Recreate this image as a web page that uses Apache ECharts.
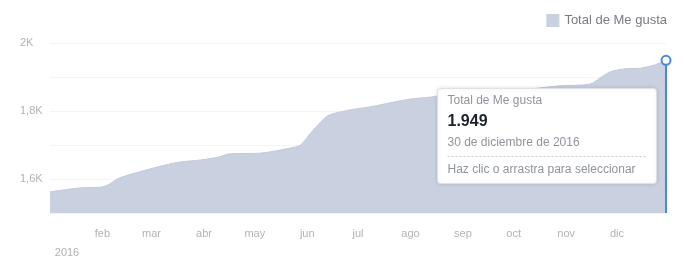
<!DOCTYPE html>
<html><head><meta charset="utf-8">
<script src="https://cdn.jsdelivr.net/npm/echarts@6/dist/echarts.min.js"></script>
<style>html,body{margin:0;padding:0;background:#fff}#c{width:684px;height:267px}</style>
</head><body><div id="c"></div>
<script>
const seriesName = 'Total de Me gusta';
const dates = ['2016-01-01','2016-01-19','2016-01-31','2016-02-04','2016-02-11','2016-02-23','2016-03-09','2016-03-18','2016-03-30','2016-04-10','2016-04-16','2016-05-04','2016-05-22','2016-05-28','2016-06-03','2016-06-09','2016-06-14','2016-06-26','2016-07-08','2016-07-20','2016-08-01','2016-08-13','2016-08-24','2016-09-11','2016-10-05','2016-10-28','2016-11-15','2016-11-21','2016-11-27','2016-12-06','2016-12-15','2016-12-23','2016-12-30'];
const likes = [1562,1574,1576,1582,1603,1621,1641,1650,1656,1665,1674,1676,1691,1700,1735,1768,1788,1803,1812,1824,1835,1841,1850,1856,1862,1874,1879,1897,1915,1924,1926,1935,1949];
const monthLabels = ['2016','feb','mar','abr','may','jun','jul','ago','sep','oct','nov','dic'];
const yTickLabels = {1600:'1,6K',1800:'1,8K',2000:'2K'};
const tipDate = '30 de diciembre de 2016';
const tipHint = 'Haz clic o arrastra para seleccionar';

const lastIdx = likes.length - 1;
const fmtNum = v => String(v).replace(/\B(?=(\d{3})+(?!\d))/g, '.');
const areaColor = '#c9d0e0';
const blue = '#4b86e0';
const labelGrey = '#b3b3b3';
const tipGrey = '#8f949b';

const chart = echarts.init(document.getElementById('c'));
const tx = 437, ty = 88, tw = 219, th = 95;
chart.setOption({
  animation: false,
  grid: {left: 50, right: 18, top: 43, bottom: 54},
  legend: {
    right: 12, top: 9, itemWidth: 13, itemHeight: 13, itemGap: 8, icon: 'rect',
    textStyle: {color: '#777b82', fontSize: 13, fontFamily: 'Liberation Sans'},
    data: [seriesName]
  },
  xAxis: {
    type: 'time',
    min: dates[0], max: dates[lastIdx],
    splitNumber: 12,
    minInterval: 28 * 86400000,
    maxInterval: 31 * 86400000,
    axisLine: {show: false},
    axisTick: {show: false},
    splitLine: {show: false},
    axisLabel: {
      margin: 15, color: labelGrey, fontSize: 11, fontFamily: 'Liberation Sans',
      showMinLabel: true, hideOverlap: false,
      formatter: function (v) {
        const d = new Date(v);
        const m = d.getMonth();
        if (d.getDate() !== 1) return '';
        if (m === 0) return '{e| }\n{y|' + monthLabels[0] + '}';
        return monthLabels[m];
      },
      rich: {
        e: {fontSize: 11, lineHeight: 16},
        y: {fontSize: 11, color: labelGrey, padding: [0, 0, 0, 34], lineHeight: 17, fontFamily: 'Liberation Sans'}
      }
    }
  },
  yAxis: {
    type: 'value', min: 1500, max: 2000, interval: 100,
    axisLine: {show: false}, axisTick: {show: false},
    splitLine: {lineStyle: {color: '#f4f4f4'}},
    axisLabel: {
      margin: 30, align: 'left', color: labelGrey, fontSize: 11, fontFamily: 'Liberation Sans',
      formatter: v => yTickLabels[v] || ''
    }
  },
  series: [{
    name: seriesName, type: 'line', symbol: 'none', smooth: 0.3,
    lineStyle: {color: '#c2c9db', width: 1},
    itemStyle: {color: areaColor},
    areaStyle: {color: areaColor, opacity: 1},
    data: dates.map((d, i) => [d, likes[i]]),
    markLine: {
      silent: true, symbol: 'none', label: {show: false},
      lineStyle: {color: blue, width: 2, type: 'solid'},
      data: [[{coord: [dates[lastIdx], likes[lastIdx]]}, {coord: [dates[lastIdx], 1500]}]]
    },
    markPoint: {
      symbol: 'circle', symbolSize: 9, label: {show: false},
      itemStyle: {color: '#fff', borderColor: blue, borderWidth: 2},
      data: [{coord: [dates[lastIdx], likes[lastIdx]]}]
    }
  }],
  graphic: [{
    type: 'group', left: tx, top: ty, z: 100,
    children: [
      {type: 'rect', z: 100, shape: {x: 0, y: 0, width: tw, height: th, r: 3},
       style: {fill: '#fff', stroke: '#dfe1e5', lineWidth: 1, shadowBlur: 4, shadowColor: 'rgba(0,0,0,0.12)'}},
      {type: 'text', z: 101, left: 10, top: 6, style: {text: seriesName, fill: tipGrey, fontSize: 12, fontFamily: 'Liberation Sans'}},
      {type: 'text', z: 101, left: 10, top: 25, style: {text: fmtNum(likes[lastIdx]), fill: '#1d2129', fontSize: 16, fontWeight: 'bold', fontFamily: 'Liberation Sans'}},
      {type: 'text', z: 101, left: 10, top: 48, style: {text: tipDate, fill: tipGrey, fontSize: 12, fontFamily: 'Liberation Sans'}},
      {type: 'line', z: 101, shape: {x1: 10, y1: 68, x2: tw - 9, y2: 68}, style: {stroke: '#c8ccd2', lineWidth: 1, lineDash: [2, 2]}},
      {type: 'text', z: 101, left: 10, top: 75, style: {text: tipHint, fill: tipGrey, fontSize: 12, fontFamily: 'Liberation Sans'}}
    ]
  }]
});
</script></body></html>
